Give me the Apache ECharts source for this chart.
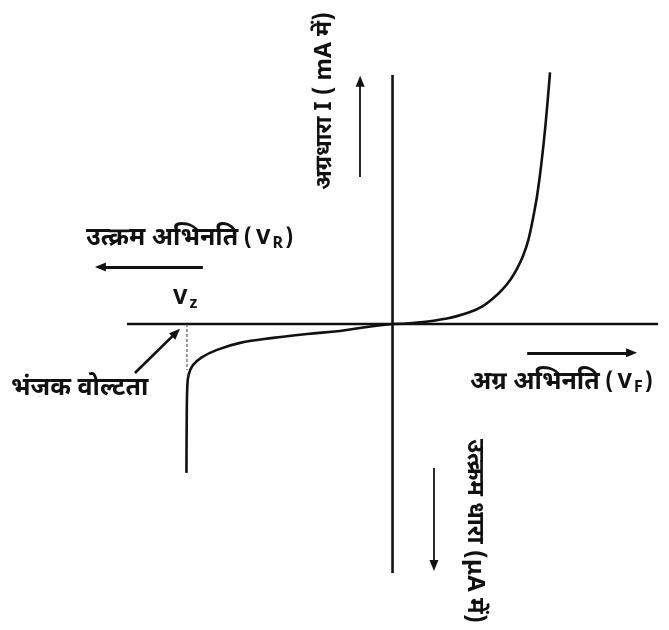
<!DOCTYPE html>
<html>
<head>
<meta charset="utf-8">
<script src="https://cdn.jsdelivr.net/npm/echarts@6/dist/echarts.min.js"></script>
<style>
    html, body { margin: 0; padding: 0; background: #fff; }
    #chart { width: 669px; height: 630px; }
</style>
</head>
<body>
<div id="chart"></div>
<script>
// V-I characteristic of a zener / p-n diode (arbitrary units)
const axisExtent = 10;               // both axes drawn from -10 to 10
const zenerVoltage = -7.74;          // V_z
const zenerKnee = -1.85;

const forwardCurve = [
    [0, 0], [0.77, 0.04], [2.05, 0.22], [2.92, 0.48], [3.40, 0.72],
    [3.80, 1.04], [4.15, 1.40], [4.45, 1.80], [4.69, 2.22], [4.92, 2.75],
    [5.12, 3.40], [5.30, 4.30], [5.45, 5.20], [5.60, 6.40], [5.76, 8.00],
    [5.93, 10.1]
];

const reverseCurve = [
    [0, 0], [-0.96, -0.12], [-1.98, -0.28], [-3.22, -0.40], [-4.50, -0.56],
    [-5.74, -0.76], [-6.61, -1.04], [-7.20, -1.35], [-7.52, -1.66],
    [-7.68, -2.05], [-7.73, -2.6], [-7.75, -4.0], [-7.76, -5.98]
];

const labels = {
    vr: 'उत्क्रम अभिनति',
    vf: 'अग्र अभिनति',
    iForward: 'अग्रधारा I ( mA में)',
    iReverse: 'उत्क्रम धारा (μA में)',
    breakdown: 'भंजक वोल्टता'
};

const FONT = '"Noto Sans Devanagari", "Noto Sans", "DejaVu Sans", sans-serif';
const INK = '#111';

const chart = echarts.init(document.getElementById('chart'));

function arrow(from, to, width) {
    return [
        { coord: from, lineStyle: { width: width, color: INK, type: 'solid' } },
        { coord: to }
    ];
}

const richStyle = {
    t: { fontSize: 25, fontWeight: 'bold', fontFamily: FONT, fill: INK },
    l: { fontSize: 22, fontWeight: 'bold', fontFamily: FONT, fill: INK, padding: [0, 2, 0, 2] },
    s: { fontSize: 16, fontWeight: 'bold', fontFamily: FONT, fill: INK, padding: [10, 0, 0, 0] }
};

const option = {
    backgroundColor: '#fff',
    animation: false,
    grid: { left: 0, right: 0, top: 0, bottom: 0 },
    xAxis: {
        type: 'value', min: -14.78, max: 10.41,
        axisLine: { show: false }, axisTick: { show: false },
        axisLabel: { show: false }, splitLine: { show: false }
    },
    yAxis: {
        type: 'value', min: -12.29, max: 13.01,
        axisLine: { show: false }, axisTick: { show: false },
        axisLabel: { show: false }, splitLine: { show: false }
    },
    series: [
        {
            name: 'V axis', type: 'line', silent: true, showSymbol: false,
            data: [[-axisExtent, 0], [axisExtent, 0]],
            lineStyle: { color: INK, width: 2.6 }
        },
        {
            name: 'I axis', type: 'line', silent: true, showSymbol: false,
            data: [[0, -axisExtent], [0, axisExtent]],
            lineStyle: { color: INK, width: 2.6 }
        },
        {
            name: 'forward', type: 'line', silent: true, showSymbol: false,
            smooth: 0.4, clip: false,
            data: forwardCurve,
            lineStyle: { color: INK, width: 2.6 }
        },
        {
            name: 'reverse', type: 'line', silent: true, showSymbol: false,
            smooth: 0.4, clip: false,
            data: reverseCurve,
            lineStyle: { color: INK, width: 2.6 }
        },
        {
            name: 'Vz', type: 'line', silent: true, showSymbol: false,
            data: [[zenerVoltage, 0], [zenerVoltage, zenerKnee]],
            lineStyle: { color: '#333', width: 1, type: [3, 2] },
            markLine: {
                silent: true,
                symbol: ['none', 'triangle'],
                symbolSize: [9, 11],
                label: { show: false },
                emphasis: { disabled: true },
                data: [
                    arrow([-1.22, 5.9], [-1.22, 9.75], 1.8),
                    arrow([-7.14, 2.29], [-11.0, 2.29], 3),
                    arrow([5.07, -1.16], [9.0, -1.16], 3),
                    arrow([1.56, -5.78], [1.56, -9.7], 1.8),
                    arrow([-9.70, -1.97], [-8.15, -0.35], 2.6)
                ]
            }
        }
    ],
    graphic: [
        {
            type: 'text', x: 86, y: 240,
            style: {
                text: '{t|' + labels.vr + '} {l|(}{l|V}{s|R}{l|)}',
                verticalAlign: 'middle', fill: INK, rich: richStyle
            }
        },
        {
            type: 'text', x: 470, y: 384,
            style: {
                text: '{t|' + labels.vf + '} {l|(}{l|V}{s|F}{l|)}',
                verticalAlign: 'middle', fill: INK, rich: richStyle
            }
        },
        {
            type: 'text', x: 171, y: 300,
            style: {
                text: '{l|V}{s|z}',
                verticalAlign: 'middle', fill: INK, rich: richStyle
            }
        },
        {
            type: 'text', x: 11, y: 390,
            style: {
                text: labels.breakdown,
                font: 'bold 25px ' + FONT,
                verticalAlign: 'middle', fill: INK
            }
        },
        {
            type: 'text', x: 327, y: 101, rotation: Math.PI / 2,
            style: {
                text: labels.iForward,
                font: 'bold 23px ' + FONT,
                align: 'center', verticalAlign: 'middle', fill: INK
            }
        },
        {
            type: 'text', x: 472, y: 531, rotation: -Math.PI / 2,
            style: {
                text: labels.iReverse,
                font: 'bold 24px ' + FONT,
                align: 'center', verticalAlign: 'middle', fill: INK
            }
        }
    ]
};

chart.setOption(option);
</script>
</body>
</html>
